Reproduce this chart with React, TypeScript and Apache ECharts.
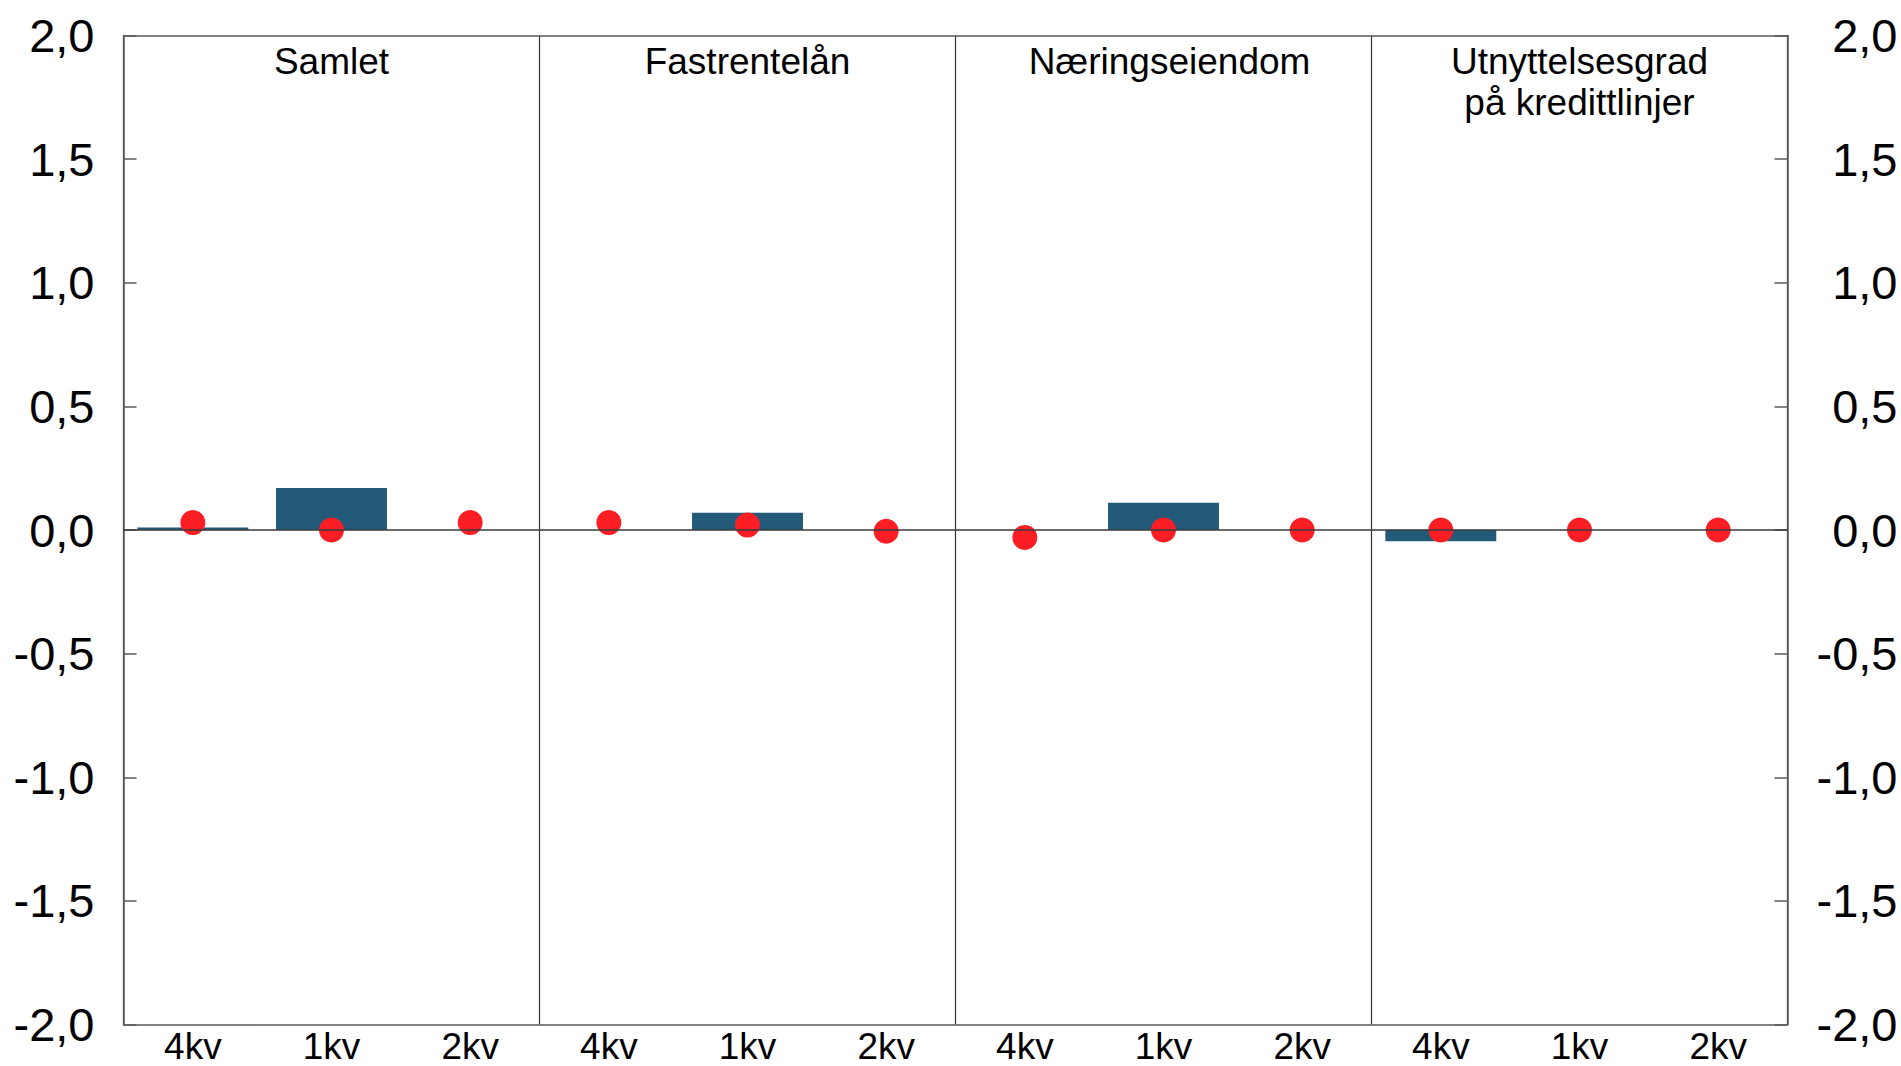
import React, { useEffect, useRef } from "react";
import * as echarts from "echarts";

const quarters = ["4kv", "1kv", "2kv", "4kv", "1kv", "2kv", "4kv", "1kv", "2kv", "4kv", "1kv", "2kv"];
const panels = ["Samlet", "Fastrentelån", "Næringseiendom", "Utnyttelsesgrad\npå kredittlinjer"];
const barValues: (number | null)[] = [0.01, 0.17, null, null, 0.07, null, null, 0.11, null, -0.045, null, null];
const dotValues: number[] = [0.03, 0, 0.03, 0.03, 0.02, -0.005, -0.03, 0, 0, 0, 0, 0];
const yTicks = { min: -2, max: 2, interval: 0.5 };

const FONT = "'Liberation Sans', Arial, sans-serif";
const AXIS_COLOR = "#5a5a5a";

export default function App() {
  const ref = useRef<HTMLDivElement>(null);
  useEffect(() => {
    if (!ref.current) return;
    const chart = echarts.init(ref.current, undefined, { renderer: "svg" });
    const fmt = (v: number) => v.toFixed(1).replace(".", ",");
    const yBase = {
      type: "value" as const,
      min: yTicks.min,
      max: yTicks.max,
      interval: yTicks.interval,
      splitLine: { show: false },
      axisLine: { show: true, lineStyle: { color: AXIS_COLOR, width: 1.5 } },
      axisTick: { show: true, inside: true, length: 13, lineStyle: { color: AXIS_COLOR, width: 1.5 } },
    };
    const panelData = panels.map((p, i) =>
      i === 2 ? { value: p, textStyle: { padding: [0, 0, 0, 12] } } : p
    );
    chart.setOption({
      animation: false,
      textStyle: { fontFamily: FONT },
      grid: { left: 123.5, right: 113.5, top: 35.5, bottom: 41.5 },
      xAxis: [
        {
          type: "category",
          data: quarters,
          position: "bottom",
          axisLine: { show: true, onZero: false, lineStyle: { color: AXIS_COLOR, width: 1.5 } },
          axisTick: { show: false },
          axisLabel: { fontSize: 37, lineHeight: 37, color: "#000", margin: 3, fontFamily: FONT, interval: 0 },
          splitLine: { show: false },
        },
        {
          type: "category",
          data: panelData,
          position: "top",
          axisLine: { show: true, onZero: false, lineStyle: { color: AXIS_COLOR, width: 1.5 } },
          axisTick: { show: false },
          axisLabel: {
            inside: true,
            fontSize: 37,
            lineHeight: 41,
            color: "#000",
            margin: 5,
            fontFamily: FONT,
            interval: 0,
            verticalAlign: "top",
          },
          splitLine: { show: true, lineStyle: { color: "#333", width: 1.2 } },
        },
      ],
      yAxis: [
        {
          ...yBase,
          position: "left",
          axisLabel: { formatter: fmt, fontSize: 47, color: "#000", margin: 29, fontFamily: FONT },
        },
        {
          ...yBase,
          position: "right",
          axisLabel: { formatter: fmt, fontSize: 47, color: "#000", margin: 110, align: "right", fontFamily: FONT },
        },
      ],
      series: [
        {
          type: "bar",
          xAxisIndex: 0,
          yAxisIndex: 0,
          data: barValues,
          barWidth: "80%",
          itemStyle: { color: "#235a79" },
          z: 2,
        },
        {
          type: "line",
          xAxisIndex: 0,
          yAxisIndex: 0,
          data: [],
          z: 3,
          markLine: {
            silent: true,
            symbol: "none",
            label: { show: false },
            lineStyle: { color: "#3a3a3a", width: 1.5, type: "solid" },
            data: [{ yAxis: 0 }],
          },
        },
        {
          type: "scatter",
          xAxisIndex: 0,
          yAxisIndex: 0,
          data: dotValues,
          symbol: "circle",
          symbolSize: 25,
          itemStyle: { color: "#fc1e25", opacity: 1 },
          z: 4,
        },
      ],
    });
    return () => chart.dispose();
  }, []);
  return (
    <div
      ref={ref}
      style={{ position: "fixed", left: 0, top: 0, width: 1901, height: 1066, background: "#fff" }}
    />
  );
}
